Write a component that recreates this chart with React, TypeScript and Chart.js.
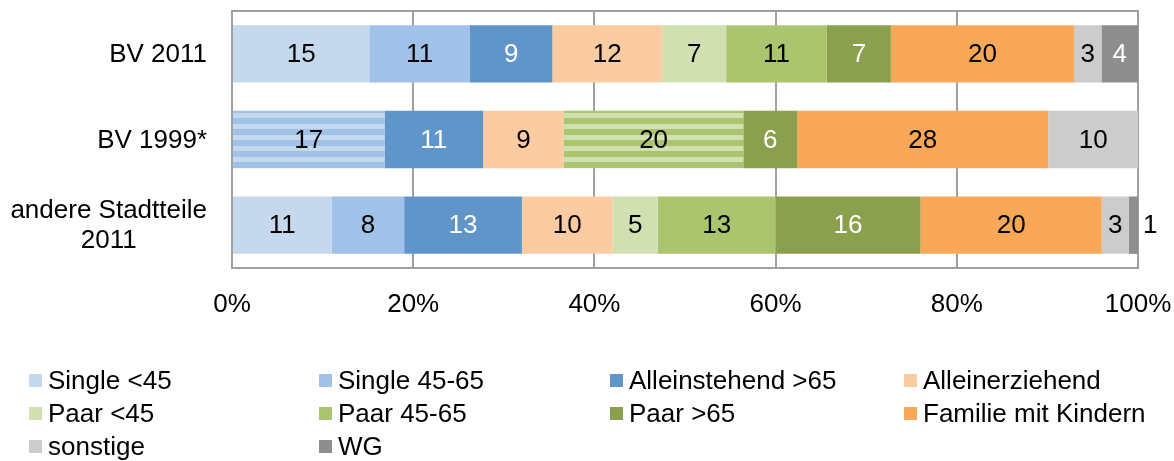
import React, { useEffect, useRef } from 'react';
import { Chart, registerables } from 'chart.js';

Chart.register(...registerables);

// ---------- data ----------
const categories: string[][] = [['BV 2011'], ['BV 1999*'], ['andere Stadtteile', '2011']];
const seriesNames = [
  'Single <45', 'Single 45-65', 'Alleinstehend >65', 'Alleinerziehend',
  'Paar <45', 'Paar 45-65', 'Paar >65', 'Familie mit Kindern', 'sonstige', 'WG',
];
// BV 1999*: Single <45 and 45-65 were only counted together (striped), same for Paar <45 / 45-65
const singleU45 = [15, 17, 11];
const single4565 = [11, null, 8];
const alleinstehend65 = [9, 11, 13];
const alleinerziehend = [12, 9, 10];
const paarU45 = [7, 20, 5];
const paar4565 = [11, null, 13];
const paarO65 = [7, 6, 16];
const familie = [20, 28, 20];
const sonstige = [3, 10, 3];
const wg = [4, null, 1];
const xTickValues = [0, 20, 40, 60, 80, 100];
const combinedRow = 1;

// ---------- styles ----------
const colors = ['#C6D8EE', '#A0C1E8', '#5F95C9', '#FBCBA2', '#D0E0B1', '#AAC56E', '#8BA04E', '#F9A858', '#CCCCCC', '#8E8E8E'];
const whiteText = [false, false, true, false, false, false, true, false, false, true];
const FONT = '"Liberation Sans", Arial, Helvetica, sans-serif';
const FS = 26;
const GRID = '#A0A0A0';

export default function App() {
  const ref = useRef<HTMLCanvasElement>(null);

  useEffect(() => {
    document.body.style.margin = '0';
    const canvas = ref.current!;
    const series: (number | null)[][] = [
      singleU45, single4565, alleinstehend65, alleinerziehend,
      paarU45, paar4565, paarO65, familie, sonstige, wg,
    ];
    const totals = categories.map((_, i) => series.reduce((s, arr) => s + (arr[i] ?? 0), 0));

    const stripe = (dark: string, light: string) => {
      const c = document.createElement('canvas');
      c.width = 4; c.height = 11;
      const g = c.getContext('2d')!;
      g.fillStyle = light; g.fillRect(0, 0, 4, 11);
      g.fillStyle = dark;
      g.fillRect(0, 8, 4, 3);
      g.fillRect(0, 0, 4, 3);
      return canvas.getContext('2d')!.createPattern(c, 'repeat')!;
    };
    const stripeFor: Record<number, CanvasPattern> = {
      0: stripe(colors[1], colors[0]),
      4: stripe(colors[5], colors[4]),
    };

    const datasets = series.map((arr, k) => ({
      label: seriesNames[k],
      data: arr.map((v, i) => (v == null ? null : (v / totals[i]) * 100)),
      backgroundColor: arr.map((_, i) => (stripeFor[k] && i === combinedRow ? stripeFor[k] : colors[k])),
      borderWidth: 0,
      barPercentage: 1,
      categoryPercentage: 0.67,
    }));

    const segLabels = {
      id: 'segLabels',
      afterDatasetsDraw(chart: any) {
        const ctx = chart.ctx;
        ctx.save();
        ctx.font = `${FS}px ${FONT}`;
        ctx.textBaseline = 'middle';
        series.forEach((arr, k) => {
          const meta = chart.getDatasetMeta(k);
          meta.data.forEach((el: any, i: number) => {
            const v = arr[i];
            if (v == null) return;
            const { x, base, y } = el.getProps(['x', 'base', 'y'], true);
            const txt = String(v);
            const w = ctx.measureText(txt).width;
            const l = Math.min(x, base), r = Math.max(x, base);
            if (r - l >= w + 4) {
              ctx.textAlign = 'center';
              ctx.fillStyle = whiteText[k] ? '#FFFFFF' : '#000000';
              ctx.fillText(txt, (l + r) / 2, y + 1);
            } else {
              ctx.textAlign = 'left';
              ctx.fillStyle = '#000000';
              ctx.fillText(txt, r + 5, y + 1);
            }
          });
        });
        ctx.restore();
      },
    };

    const frame = {
      id: 'frame',
      afterDraw(chart: any) {
        const ctx = chart.ctx;
        const a = chart.chartArea;
        ctx.save();
        // top border
        ctx.strokeStyle = GRID;
        ctx.lineWidth = 2;
        ctx.beginPath();
        ctx.moveTo(a.left - 1, a.top);
        ctx.lineTo(a.right + 1, a.top);
        ctx.stroke();
        // category labels
        const ys = chart.scales.y;
        ctx.font = `${FS}px ${FONT}`;
        ctx.fillStyle = '#000000';
        ctx.textBaseline = 'middle';
        ctx.textAlign = 'center';
        const lh = 30;
        categories.forEach((lines, i) => {
          const cy = ys.getPixelForValue(i) + 1;
          const wmax = Math.max(...lines.map((s) => ctx.measureText(s).width));
          const cx = a.left - 25 - wmax / 2;
          lines.forEach((s, j) => {
            ctx.fillText(s, cx, cy + (j - (lines.length - 1) / 2) * lh);
          });
        });
        // legend
        ctx.textAlign = 'left';
        const colX = [29, 319, 610, 904];
        const rowY = [381, 414, 447];
        seriesNames.forEach((name, k) => {
          const col = k % 4, row = Math.floor(k / 4);
          const bx = colX[col], by = rowY[row];
          ctx.fillStyle = colors[k];
          ctx.fillRect(bx, by - 7, 13, 13);
          ctx.fillStyle = '#000000';
          ctx.fillText(name, bx + 19, by + 1);
        });
        ctx.restore();
      },
    };

    const chart = new Chart(canvas, {
      type: 'bar',
      data: { labels: categories.map((c) => c.join(' ')), datasets: datasets as any },
      options: {
        indexAxis: 'y',
        animation: false,
        responsive: false,
        maintainAspectRatio: false,
        layout: { padding: { left: 0, right: 36, top: 11, bottom: 133 } },
        plugins: { legend: { display: false }, tooltip: { enabled: false } },
        scales: {
          x: {
            stacked: true,
            min: 0,
            max: 100,
            afterBuildTicks: (s: any) => { s.ticks = xTickValues.map((v) => ({ value: v })); },
            afterFit: (s: any) => { s.height = 60; s.paddingLeft = 0; s.paddingRight = 0; },
            grid: { color: GRID, lineWidth: 2, drawTicks: false },
            border: { display: true, color: GRID, width: 2 },
            ticks: {
              color: '#000000',
              font: { family: FONT, size: FS },
              padding: 21,
              maxRotation: 0,
              callback: (v: any) => `${v}%`,
            },
          },
          y: {
            stacked: true,
            afterFit: (s: any) => { s.width = 232; },
            grid: { display: false, drawTicks: false },
            border: { display: true, color: GRID, width: 2 },
            ticks: { display: false },
          },
        },
      },
      plugins: [segLabels, frame],
    });
    return () => chart.destroy();
  }, []);

  return <canvas ref={ref} width={1174} height={461} style={{ display: 'block' }} />;
}
